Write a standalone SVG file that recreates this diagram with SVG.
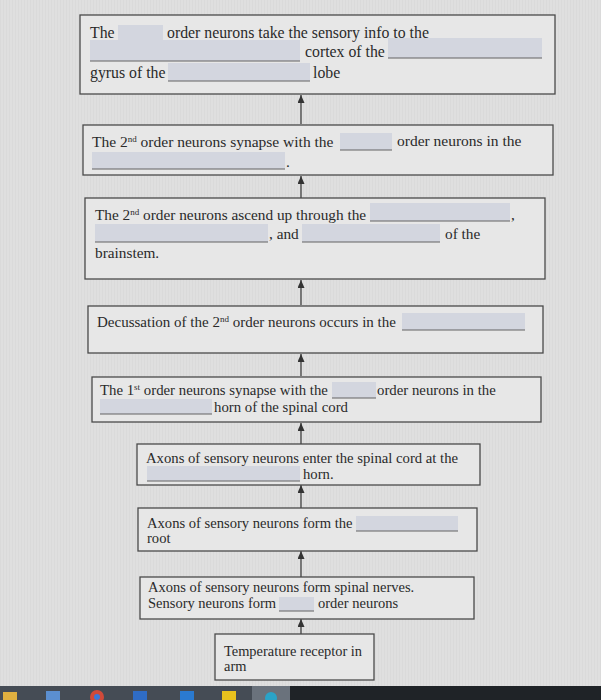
<svg xmlns="http://www.w3.org/2000/svg" width="601" height="700" viewBox="0 0 601 700">
<defs>
<marker id="ah" markerWidth="8" markerHeight="8" refX="8" refY="3.5" orient="auto" markerUnits="userSpaceOnUse">
<path d="M0,0 L8,3.5 L0,7 Z" fill="#333"/>
</marker>
<pattern id="tex" width="3" height="3" patternUnits="userSpaceOnUse">
<rect width="3" height="3" fill="#dfdfdf"/>
<rect width="1" height="3" fill="#dadada"/>
</pattern>
</defs>
<style>
.box{fill:#e7e7e7;stroke:#4a4a4a;stroke-width:1.3}
.t{font-family:"Liberation Serif","Times New Roman",serif;font-size:14px;fill:#2a2a2a}
.sup{font-size:9px}
.fld{fill:#d3d6df}
.ul{stroke:#555;stroke-width:0.9}
.con{stroke:#333;stroke-width:1.2;fill:none}
</style>
<rect width="601" height="700" fill="url(#tex)"/>

<g id="connectors">
<line class="con" x1="301" y1="124" x2="301" y2="95" marker-end="url(#ah)"/>
<line class="con" x1="301" y1="198" x2="301" y2="176" marker-end="url(#ah)"/>
<line class="con" x1="301" y1="305" x2="301" y2="280" marker-end="url(#ah)"/>
<line class="con" x1="301" y1="376" x2="301" y2="354" marker-end="url(#ah)"/>
<line class="con" x1="301" y1="444" x2="301" y2="423" marker-end="url(#ah)"/>
<line class="con" x1="301" y1="508" x2="301" y2="485" marker-end="url(#ah)"/>
<line class="con" x1="301" y1="577" x2="301" y2="551" marker-end="url(#ah)"/>
<line class="con" x1="301" y1="634" x2="301" y2="619" marker-end="url(#ah)"/>
</g>

<g id="box1">
<rect class="box" x="80" y="15" width="475" height="79"/>
<rect class="fld" x="118" y="25" width="45" height="17"/>
<line class="ul" x1="118" y1="42" x2="163" y2="42"/>
<rect class="fld" x="90" y="40" width="210" height="21"/>
<line class="ul" x1="90" y1="61" x2="300" y2="61"/>
<rect class="fld" x="388" y="38" width="154" height="20"/>
<line class="ul" x1="388" y1="58" x2="542" y2="58"/>
<rect class="fld" x="168" y="63" width="142" height="18"/>
<line class="ul" x1="168" y1="81" x2="310" y2="81"/>
<text class="t" style="font-size:15.8px" x="90" y="38">The</text>
<text class="t" style="font-size:15.8px" x="167" y="38">order neurons take the sensory info to the</text>
<text class="t" style="font-size:15.8px" x="305" y="57">cortex of the</text>
<text class="t" style="font-size:15.8px" x="90" y="78">gyrus of the</text>
<text class="t" style="font-size:15.8px" x="313" y="78">lobe</text>
</g>

<g id="box2">
<rect class="box" x="83" y="125" width="470" height="50"/>
<rect class="fld" x="340" y="133" width="52" height="17"/>
<line class="ul" x1="340" y1="150" x2="392" y2="150"/>
<rect class="fld" x="92" y="152" width="193" height="17"/>
<line class="ul" x1="92" y1="169" x2="285" y2="169"/>
<text class="t" style="font-size:15.5px" x="92" y="147">The 2<tspan class="sup" dy="-5">nd</tspan><tspan dy="5"> order neurons synapse with the</tspan></text>
<text class="t" style="font-size:15.5px" x="397" y="146">order neurons in the</text>
<text class="t" style="font-size:15.5px" x="286" y="167">.</text>
</g>

<g id="box3">
<rect class="box" x="85" y="198" width="460" height="81"/>
<rect class="fld" x="370" y="203" width="140" height="18"/>
<line class="ul" x1="370" y1="221" x2="510" y2="221"/>
<rect class="fld" x="95" y="224" width="173" height="18"/>
<line class="ul" x1="95" y1="242" x2="268" y2="242"/>
<rect class="fld" x="302" y="224" width="138" height="18"/>
<line class="ul" x1="302" y1="242" x2="440" y2="242"/>
<text class="t" style="font-size:15.3px" x="95" y="220">The 2<tspan class="sup" dy="-5">nd</tspan><tspan dy="5"> order neurons ascend up through the</tspan></text>
<text class="t" style="font-size:15.3px" x="511" y="220">,</text>
<text class="t" style="font-size:15.3px" x="269" y="239">, and</text>
<text class="t" style="font-size:15.3px" x="445" y="239">of the</text>
<text class="t" style="font-size:15.3px" x="95" y="258">brainstem.</text>
</g>

<g id="box4">
<rect class="box" x="88" y="306" width="455" height="47"/>
<rect class="fld" x="402" y="313" width="123" height="17"/>
<line class="ul" x1="402" y1="330" x2="525" y2="330"/>
<text class="t" style="font-size:15px" x="97" y="327">Decussation of the 2<tspan class="sup" dy="-5">nd</tspan><tspan dy="5"> order neurons occurs in the</tspan></text>
</g>

<g id="box5">
<rect class="box" x="92" y="377" width="449" height="45"/>
<rect class="fld" x="332" y="382" width="44" height="16"/>
<line class="ul" x1="332" y1="398" x2="376" y2="398"/>
<rect class="fld" x="100" y="399" width="112" height="15"/>
<line class="ul" x1="100" y1="414" x2="212" y2="414"/>
<text class="t" style="font-size:14.8px" x="100" y="395">The 1<tspan class="sup" dy="-5">st</tspan><tspan dy="5"> order neurons synapse with the</tspan></text>
<text class="t" style="font-size:14.8px" x="377" y="395">order neurons in the</text>
<text class="t" style="font-size:14.8px" x="214" y="412">horn of the spinal cord</text>
</g>

<g id="box6">
<rect class="box" x="137" y="444" width="343" height="41"/>
<rect class="fld" x="147" y="466" width="153" height="15"/>
<line class="ul" x1="147" y1="481" x2="300" y2="481"/>
<text class="t" style="font-size:14.7px" x="146" y="463">Axons of sensory neurons enter the spinal cord at the</text>
<text class="t" style="font-size:14.7px" x="303" y="479">horn.</text>
</g>

<g id="box7">
<rect class="box" x="138" y="508" width="339" height="43"/>
<rect class="fld" x="356" y="516" width="102" height="15"/>
<line class="ul" x1="356" y1="531" x2="458" y2="531"/>
<text class="t" style="font-size:14.6px" x="147" y="528">Axons of sensory neurons form the</text>
<text class="t" style="font-size:14.6px" x="147" y="543">root</text>
</g>

<g id="box8">
<rect class="box" x="140" y="577" width="334" height="42"/>
<rect class="fld" x="279" y="597" width="35" height="14"/>
<line class="ul" x1="279" y1="611" x2="314" y2="611"/>
<text class="t" style="font-size:14.5px" x="148" y="592">Axons of sensory neurons form spinal nerves.</text>
<text class="t" style="font-size:14.5px" x="148" y="608">Sensory neurons form</text>
<text class="t" style="font-size:14.5px" x="318" y="608">order neurons</text>
</g>

<g id="box9">
<rect class="box" x="215" y="634" width="159" height="46"/>
<text class="t" style="font-size:14.4px" x="224" y="656">Temperature receptor in</text>
<text class="t" style="font-size:14.4px" x="224" y="671">arm</text>
</g>

<g id="taskbar">
<rect x="0" y="686" width="601" height="14" fill="#1f2327"/>
<rect x="0" y="686" width="290" height="14" fill="#454c55"/>
<rect x="252" y="686" width="38" height="14" fill="#6a727c"/>
<rect x="3" y="692" width="14" height="8" fill="#e0b040"/>
<rect x="46" y="691" width="14" height="9" fill="#5b8fd0"/>
<circle cx="97" cy="697" r="7" fill="#d04a3a"/>
<circle cx="97" cy="697" r="3" fill="#3a78d8"/>
<rect x="133" y="691" width="14" height="9" fill="#2f6cc4"/>
<rect x="180" y="691" width="14" height="9" fill="#2a7ad0"/>
<rect x="222" y="691" width="14" height="9" fill="#e8c21e"/>
<circle cx="271" cy="698" r="6" fill="#2aa3c8"/>
</g>
</svg>
